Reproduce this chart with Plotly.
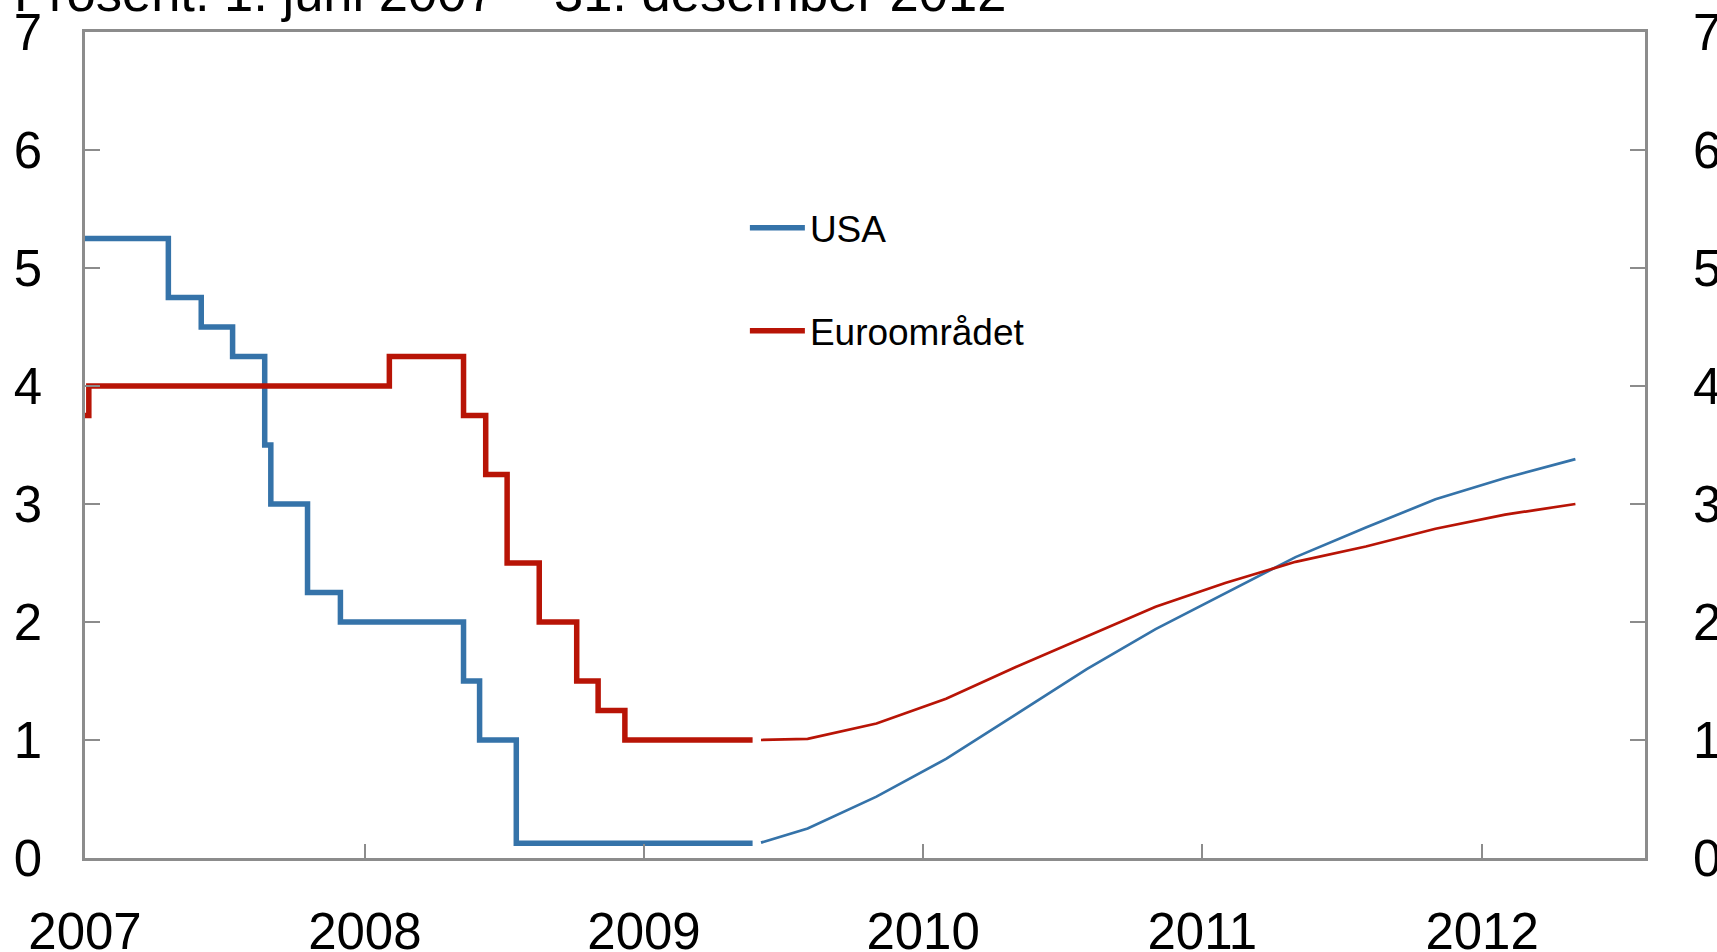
import plotly.graph_objects as go

# Policy rates (step series, change dates and levels)
usa_dates = ["2007-06-01", "2007-09-18", "2007-10-31", "2007-12-11", "2008-01-22",
             "2008-01-30", "2008-03-18", "2008-04-30", "2008-10-08", "2008-10-29",
             "2008-12-16", "2009-10-21"]
usa_rates = [5.25, 4.75, 4.50, 4.25, 3.50, 3.00, 2.25, 2.00, 1.50, 1.00, 0.125, 0.125]

euro_dates = ["2007-06-01", "2007-06-06", "2008-07-03", "2008-10-08", "2008-11-06",
              "2008-12-04", "2009-01-15", "2009-03-05", "2009-04-02", "2009-05-07",
              "2009-10-21"]
euro_rates = [3.75, 4.00, 4.25, 3.75, 3.25, 2.50, 2.00, 1.50, 1.25, 1.00, 1.00]

# Market forward rates
fwd_dates = ["2009-11-01", "2010-01-01", "2010-04-01", "2010-07-01", "2010-10-01",
             "2011-01-01", "2011-04-01", "2011-07-01", "2011-10-01", "2012-01-01",
             "2012-04-01", "2012-07-01", "2012-10-01"]
usa_fwd = [0.13, 0.25, 0.52, 0.84, 1.22, 1.60, 1.94, 2.24, 2.55, 2.80, 3.04, 3.22, 3.38]
euro_fwd = [1.00, 1.01, 1.14, 1.35, 1.62, 1.88, 2.13, 2.33, 2.51, 2.64, 2.79, 2.91, 3.00]

tick_dates = ["2007-06-01", "2008-06-01", "2009-06-01", "2010-06-01", "2011-06-01", "2012-06-01"]
tick_labels = ["2007", "2008", "2009", "2010", "2011", "2012"]
y_ticks = [0, 1, 2, 3, 4, 5, 6, 7]

BLUE = "#3573a9"
RED = "#b81406"
AXIS = "#8c8c8c"
FONT = "Liberation Sans"
FS = 51

fig = go.Figure()
fig.add_trace(go.Scatter(x=usa_dates, y=usa_rates, mode="lines", line_shape="hv",
                         line=dict(color=BLUE, width=5.5), name="USA",
                         legendgroup="a"))
fig.add_trace(go.Scatter(x=euro_dates, y=euro_rates, mode="lines", line_shape="hv",
                         line=dict(color=RED, width=5.5), name="Euroområdet",
                         legendgroup="b"))
fig.add_trace(go.Scatter(x=fwd_dates, y=usa_fwd, mode="lines",
                         line=dict(color=BLUE, width=2.7), showlegend=False))
fig.add_trace(go.Scatter(x=fwd_dates, y=euro_fwd, mode="lines",
                         line=dict(color=RED, width=2.7), showlegend=False))
# invisible trace to activate the right-hand axis
fig.add_trace(go.Scatter(x=[fwd_dates[0]], y=[usa_fwd[0]], yaxis="y2", mode="lines",
                         line=dict(width=0), showlegend=False, hoverinfo="skip"))

fig.update_layout(
    width=1717, height=952,
    template="none",
    plot_bgcolor="white", paper_bgcolor="white",
    margin=dict(l=85, r=72, t=32, b=94),
    font=dict(family=FONT, size=FS, color="black"),
    showlegend=True,
    legend=dict(x=0.423, y=0.8, xanchor="left", yanchor="top",
                font=dict(size=37, family=FONT, color="black"),
                itemwidth=55,
                bgcolor="rgba(0,0,0,0)", traceorder="grouped", tracegroupgap=52),
    xaxis=dict(type="date", range=["2007-06-01", "2012-12-31"],
               tickmode="array", tickvals=tick_dates, ticktext=tick_labels,
               ticks="inside", ticklen=14, tickwidth=1.5, tickcolor=AXIS,
               showline=True, linecolor=AXIS, linewidth=2.5, mirror=True,
               showgrid=False, zeroline=False, automargin=False,
               ticklabelstandoff=27, tickfont=dict(size=FS)),
    yaxis=dict(range=[0, 7], tickmode="array", tickvals=y_ticks,
               ticks="inside", ticklen=15, tickwidth=1.5, tickcolor=AXIS,
               showline=True, linecolor=AXIS, linewidth=2.5, mirror=False,
               showgrid=False, zeroline=False, automargin=False,
               ticklabelstandoff=30, tickfont=dict(size=FS)),
    yaxis2=dict(range=[0, 7], tickmode="array", tickvals=y_ticks, overlaying="y",
                side="right", ticks="inside", ticklen=15, tickwidth=1.5, tickcolor=AXIS,
                showline=True, linecolor=AXIS, linewidth=2.5,
                showgrid=False, zeroline=False, automargin=False,
                ticklabelstandoff=35, tickfont=dict(size=FS)),
    annotations=[dict(text="Prosent. 1. juni 2007 – 31. desember 2012",
                      xref="paper", yref="paper", x=-0.047, y=1.048,
                      xanchor="left", yanchor="middle", showarrow=False,
                      font=dict(size=52.5, family=FONT, color="black"))],
)

fig.write_html("out.html",
               config={"displayModeBar": False},
               post_script="document.body.style.margin='0';"
                           "document.body.style.overflow='hidden';"
                           "document.documentElement.style.overflow='hidden';")
